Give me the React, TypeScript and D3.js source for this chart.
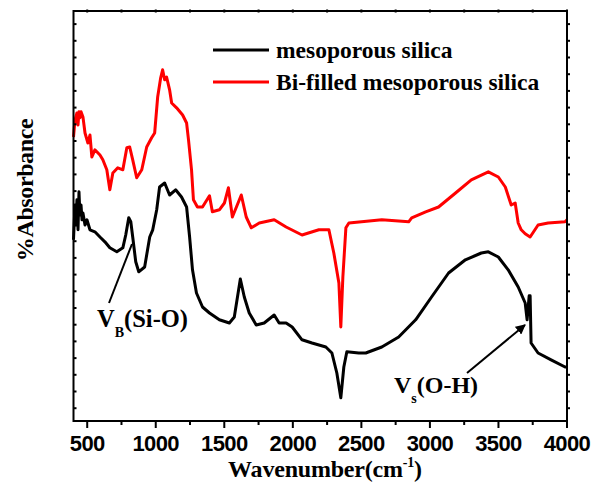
import React from "react";
import * as d3 from "d3";

// wavenumber (cm-1), absorbance (arb. units)
const silicaWn = [400, 411, 418, 425, 433, 440, 447, 455, 462, 469, 484, 498, 520, 556, 593, 629, 665, 716, 760, 781, 803, 818, 832, 854, 876, 919, 956, 978, 1007, 1028, 1065, 1101, 1145, 1188, 1225, 1247, 1268, 1297, 1341, 1392, 1464, 1537, 1573, 1617, 1646, 1682, 1733, 1791, 1864, 1900, 1951, 1995, 2067, 2140, 2241, 2285, 2321, 2350, 2372, 2394, 2481, 2532, 2649, 2772, 2896, 3012, 3136, 3259, 3375, 3426, 3499, 3571, 3644, 3695, 3709, 3724, 3731, 3738, 3789, 3884, 3986, 4000];
const silicaAbs = [45.8, 54.5, 49.5, 55.8, 48.3, 57.8, 52, 54.5, 50.8, 52.5, 49.5, 50.8, 48.3, 47.8, 46.5, 45.3, 43.8, 42.8, 43.8, 47, 51.3, 50.3, 46.5, 40.3, 37.8, 39, 46.5, 48.3, 53.3, 59, 60, 57, 58.3, 56.5, 54, 46.5, 38.3, 32.5, 29, 27.5, 25.8, 25, 26.5, 36, 31.5, 27.5, 24.5, 25, 27, 25, 25, 24, 20.8, 20, 19, 17.5, 12.5, 6.3, 14, 17.8, 17.5, 17.5, 19, 21.5, 25.8, 31.5, 37.5, 40.8, 42.5, 42.8, 41.5, 38.3, 34, 30, 25.8, 31.8, 31.8, 20, 17.5, 15.8, 14, 14];

const biWn = [400, 411, 425, 433, 440, 447, 455, 469, 484, 505, 520, 534, 556, 593, 614, 643, 665, 687, 723, 760, 789, 810, 832, 861, 898, 934, 970, 992, 1014, 1036, 1050, 1065, 1079, 1101, 1116, 1152, 1196, 1225, 1239, 1261, 1275, 1304, 1341, 1392, 1413, 1464, 1501, 1530, 1559, 1624, 1660, 1697, 1755, 1864, 1951, 2067, 2190, 2263, 2299, 2336, 2350, 2365, 2387, 2409, 2649, 2845, 2867, 2969, 3063, 3187, 3302, 3426, 3499, 3550, 3593, 3622, 3644, 3666, 3695, 3731, 3789, 3862, 3986, 4000];
const biAbs = [71.5, 75.8, 77.5, 74.5, 77.8, 76.3, 77.8, 76.5, 72.5, 70, 72, 66.5, 68.3, 67, 65.8, 63.3, 58.3, 62.5, 63.8, 63.3, 68.8, 69, 65.8, 61.3, 63.3, 69, 71.3, 72.5, 81.5, 86.3, 88.3, 85.8, 86.5, 83.3, 80, 78.8, 77, 75, 70.8, 63.3, 55.8, 54, 54, 56.8, 52.8, 53.3, 55, 58.8, 51.5, 57, 51.5, 48.8, 50, 50.8, 49, 47, 48.3, 48.3, 42.5, 35, 24, 36.5, 48.8, 50, 50.8, 50.3, 51.3, 52.8, 54, 57.5, 60.8, 62.8, 61.5, 59, 54.5, 55, 50, 48.3, 47.3, 46.5, 49.5, 50, 50.3, 50.8];

const majorTicks = [500, 1000, 1500, 2000, 2500, 3000, 3500, 4000];
const minorTicks = [750, 1250, 1750, 2250, 2750, 3250, 3750];

const serif = "'Liberation Serif', 'Times New Roman', serif";
const sans = "'Liberation Sans', Arial, sans-serif";

export default function App() {
  const width = 600;
  const height = 486;
  const left = 73.5, right = 567, top = 11, bottom = 421;

  const x = d3.scaleLinear().domain([400, 4000]).range([left, right]);
  const y = d3.scaleLinear().domain([0.5, 103]).range([bottom, top]);

  const line = d3
    .line<[number, number]>()
    .x((d) => x(d[0]))
    .y((d) => y(d[1]));

  const silica = silicaWn.map((w, i) => [w, silicaAbs[i]] as [number, number]);
  const bi = biWn.map((w, i) => [w, biAbs[i]] as [number, number]);

  // small ticks on the left/right edges
  const yTicks = d3.range(y.invert(bottom) + 3.2, 103, 4.175);
  const topTicks = majorTicks.concat(minorTicks);

  return (
    <svg
      width={width}
      height={height}
      style={{ position: "absolute", left: 0, top: 0, background: "white" }}
    >
      <defs>
        <marker id="arr" viewBox="0 0 10 10" refX="9" refY="5" markerWidth="5" markerHeight="5" orient="auto">
          <path d="M0,0 L10,5 L0,10 z" fill="black" />
        </marker>
      </defs>

      {/* curves */}
      <path d={line(bi) || ""} fill="none" stroke="#ff0000" strokeWidth={3} strokeLinejoin="round" />
      <path d={line(silica) || ""} fill="none" stroke="black" strokeWidth={3} strokeLinejoin="round" />

      {/* frame */}
      <rect x={left} y={top} width={right - left} height={bottom - top} fill="none" stroke="black" strokeWidth={2} />

      {/* bottom axis */}
      {majorTicks.map((t) => (
        <g key={"M" + t}>
          <line x1={x(t)} x2={x(t)} y1={bottom} y2={bottom + 7} stroke="black" strokeWidth={2} />
          <text x={x(t)} y={451} textAnchor="middle" fontFamily={sans} fontWeight="bold" fontSize={22} letterSpacing={-0.6}>
            {t}
          </text>
        </g>
      ))}
      {minorTicks.map((t) => (
        <line key={"m" + t} x1={x(t)} x2={x(t)} y1={bottom} y2={bottom + 4} stroke="black" strokeWidth={2} />
      ))}
      {topTicks.map((t) => (
        <line key={"t" + t} x1={x(t)} x2={x(t)} y1={top - 1.5} y2={top + 1.5} stroke="black" strokeWidth={2} />
      ))}
      {yTicks.map((t, i) => (
        <g key={"y" + i}>
          <line x1={left} x2={left + 3} y1={y(t)} y2={y(t)} stroke="black" strokeWidth={2} />
          <line x1={right} x2={right + 3} y1={y(t)} y2={y(t)} stroke="black" strokeWidth={2} />
        </g>
      ))}

      {/* axis titles */}
      <text x={325} y={477} textAnchor="middle" fontFamily={serif} fontWeight="bold" fontSize={24} letterSpacing={-0.2}>
        Wavenumber(cm<tspan fontSize={14} dy={-10}>-1</tspan><tspan dy={10}>)</tspan>
      </text>
      <text
        transform="translate(33,190) rotate(-90)"
        textAnchor="middle"
        fontFamily={serif}
        fontWeight="bold"
        fontSize={24}
        letterSpacing={-0.4}
      >
        %Absorbance
      </text>

      {/* legend */}
      <line x1={213} x2={269} y1={50} y2={50} stroke="black" strokeWidth={3} />
      <text x={276} y={58} fontFamily={serif} fontWeight="bold" fontSize={23.5}>
        mesoporous silica
      </text>
      <line x1={213} x2={269} y1={82} y2={82} stroke="#ff0000" strokeWidth={3} />
      <text x={276} y={90} fontFamily={serif} fontWeight="bold" fontSize={23.5}>
        Bi-filled mesoporous silica
      </text>

      {/* annotations */}
      <line x1={109} y1={303} x2={132} y2={244} stroke="black" strokeWidth={2} />
      <text x={97} y={327} fontFamily={serif} fontWeight="bold" fontSize={24.5}>
        V<tspan fontSize={14} dy={10}>B</tspan><tspan dy={-10}>(Si-O)</tspan>
      </text>
      <line x1={467} y1={373} x2={525} y2={325} stroke="black" strokeWidth={2} markerEnd="url(#arr)" />
      <text x={394} y={393} fontFamily={serif} fontWeight="bold" fontSize={24}>
        V<tspan fontSize={14} dy={10}>s</tspan><tspan dy={-10}>(O-H)</tspan>
      </text>
    </svg>
  );
}
